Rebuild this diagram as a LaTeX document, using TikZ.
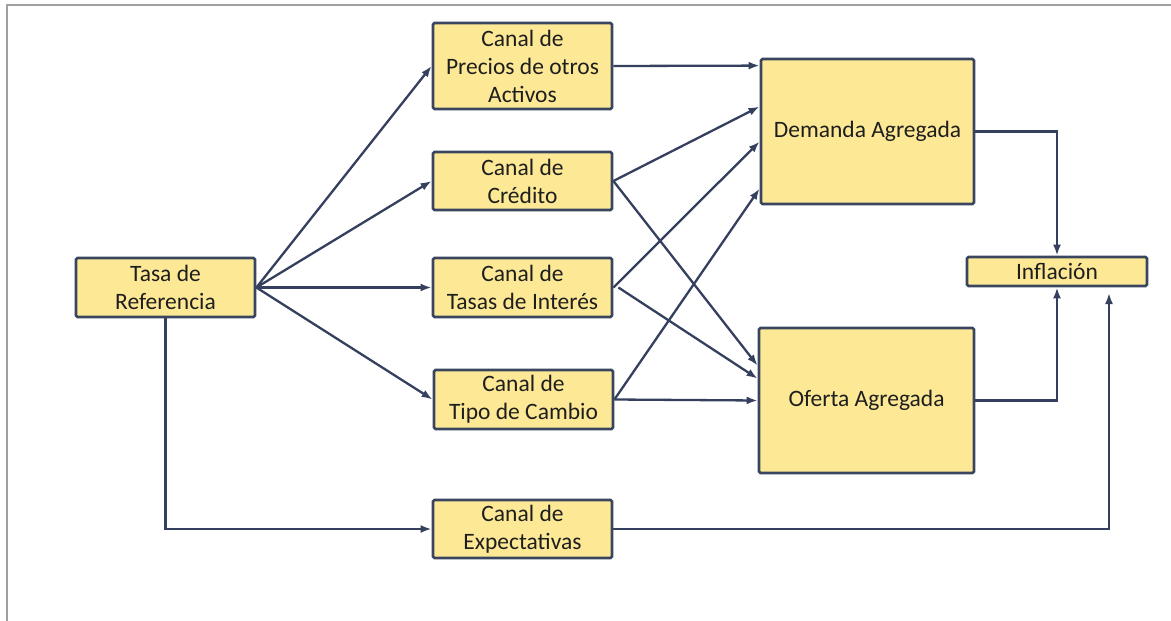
\documentclass[tikz,border=0pt]{standalone}
\usepackage{fontspec}
\setmainfont{Carlito}
\usetikzlibrary{arrows.meta,calc}
\definecolor{boxfill}{HTML}{FDE995}
\definecolor{boxline}{HTML}{3A4560}
\definecolor{arrcol}{HTML}{34405E}
\definecolor{framecol}{HTML}{A0A0A0}
\definecolor{txt}{HTML}{1E1E1E}
\begin{document}
\begin{tikzpicture}[x=1pt,y=-1pt,
 box/.style={draw=boxline, fill=boxfill, line width=2.8pt, rounded corners=1.5pt, inner sep=0pt, align=center, text=txt, font=\fontsize{23.5}{28}\selectfont, anchor=center},
 arr/.style={draw=arrcol, line width=2.3pt, -{Latex[length=11pt,width=8pt]}}]
\useasboundingbox (0,0) rectangle (1171,621);
\fill[white] (0,0) rectangle (1171,621);
\draw[framecol, line width=2.2pt] (7,621) -- (7,5) -- (1171,5);

\node[box, minimum width=179pt, minimum height=59pt] (ref) at (165.5,287.5) {Tasa de\\Referencia};
\node[box, minimum width=179pt, minimum height=86pt] (pre) at (522.5,66) {Canal de\\Precios de otros\\Activos};
\node[box, minimum width=179pt, minimum height=58pt] (cre) at (522.5,181) {Canal de\\Crédito};
\node[box, minimum width=179pt, minimum height=59pt] (tas) at (522.5,287.5) {Canal de\\Tasas de Interés};
\node[box, minimum width=179pt, minimum height=59pt] (tip) at (523.5,399.5) {Canal de\\Tipo de Cambio};
\node[box, minimum width=179pt, minimum height=58pt] (exp) at (522.5,529) {Canal de\\Expectativas};
\node[box, minimum width=213pt, minimum height=145pt] (dem) at (867.5,131.5) {Demanda Agregada};
\node[box, minimum width=215pt, minimum height=145pt] (ofe) at (866.5,400.5) {Oferta Agregada};
\node[box, minimum width=180pt, minimum height=29pt] (inf) at (1057,271.5) {Inflación};

\coordinate (expend) at (1109,293);

% from Tasa de Referencia
\draw[arr] (ref.east) -- (pre.west);
\draw[arr] (ref.east) -- (cre.west);
\draw[arr] (ref.east) -- (tas.west);
\draw[arr] (ref.east) -- (tip.west);
\draw[arr] (ref.south) |- (exp.west);

% channels to aggregate demand / supply
\draw[arr] (pre.east) -- ($(dem.north west)+(0,8)$);
\draw[arr] (cre.east) -- ($(dem.north west)+(0,49)$);
\draw[arr] (cre.east) -- ($(ofe.north west)+(0,39)$);
\draw[arr] (tas.east) -- ($(dem.north west)+(0,84)$);
\draw[arr] ($(tas.east)+(5,0)$) -- ($(ofe.north west)+(0,52)$);
\draw[arr] (tip.east) -- ($(dem.north west)+(0,131)$);
\draw[arr] (tip.east) -- (ofe.west);

% to inflation
\draw[arr] (dem.east) -| (inf.north);
\draw[arr] (ofe.east) -| (inf.south);
\draw[arr] (exp.east) -| (expend);
\end{tikzpicture}
\end{document}
